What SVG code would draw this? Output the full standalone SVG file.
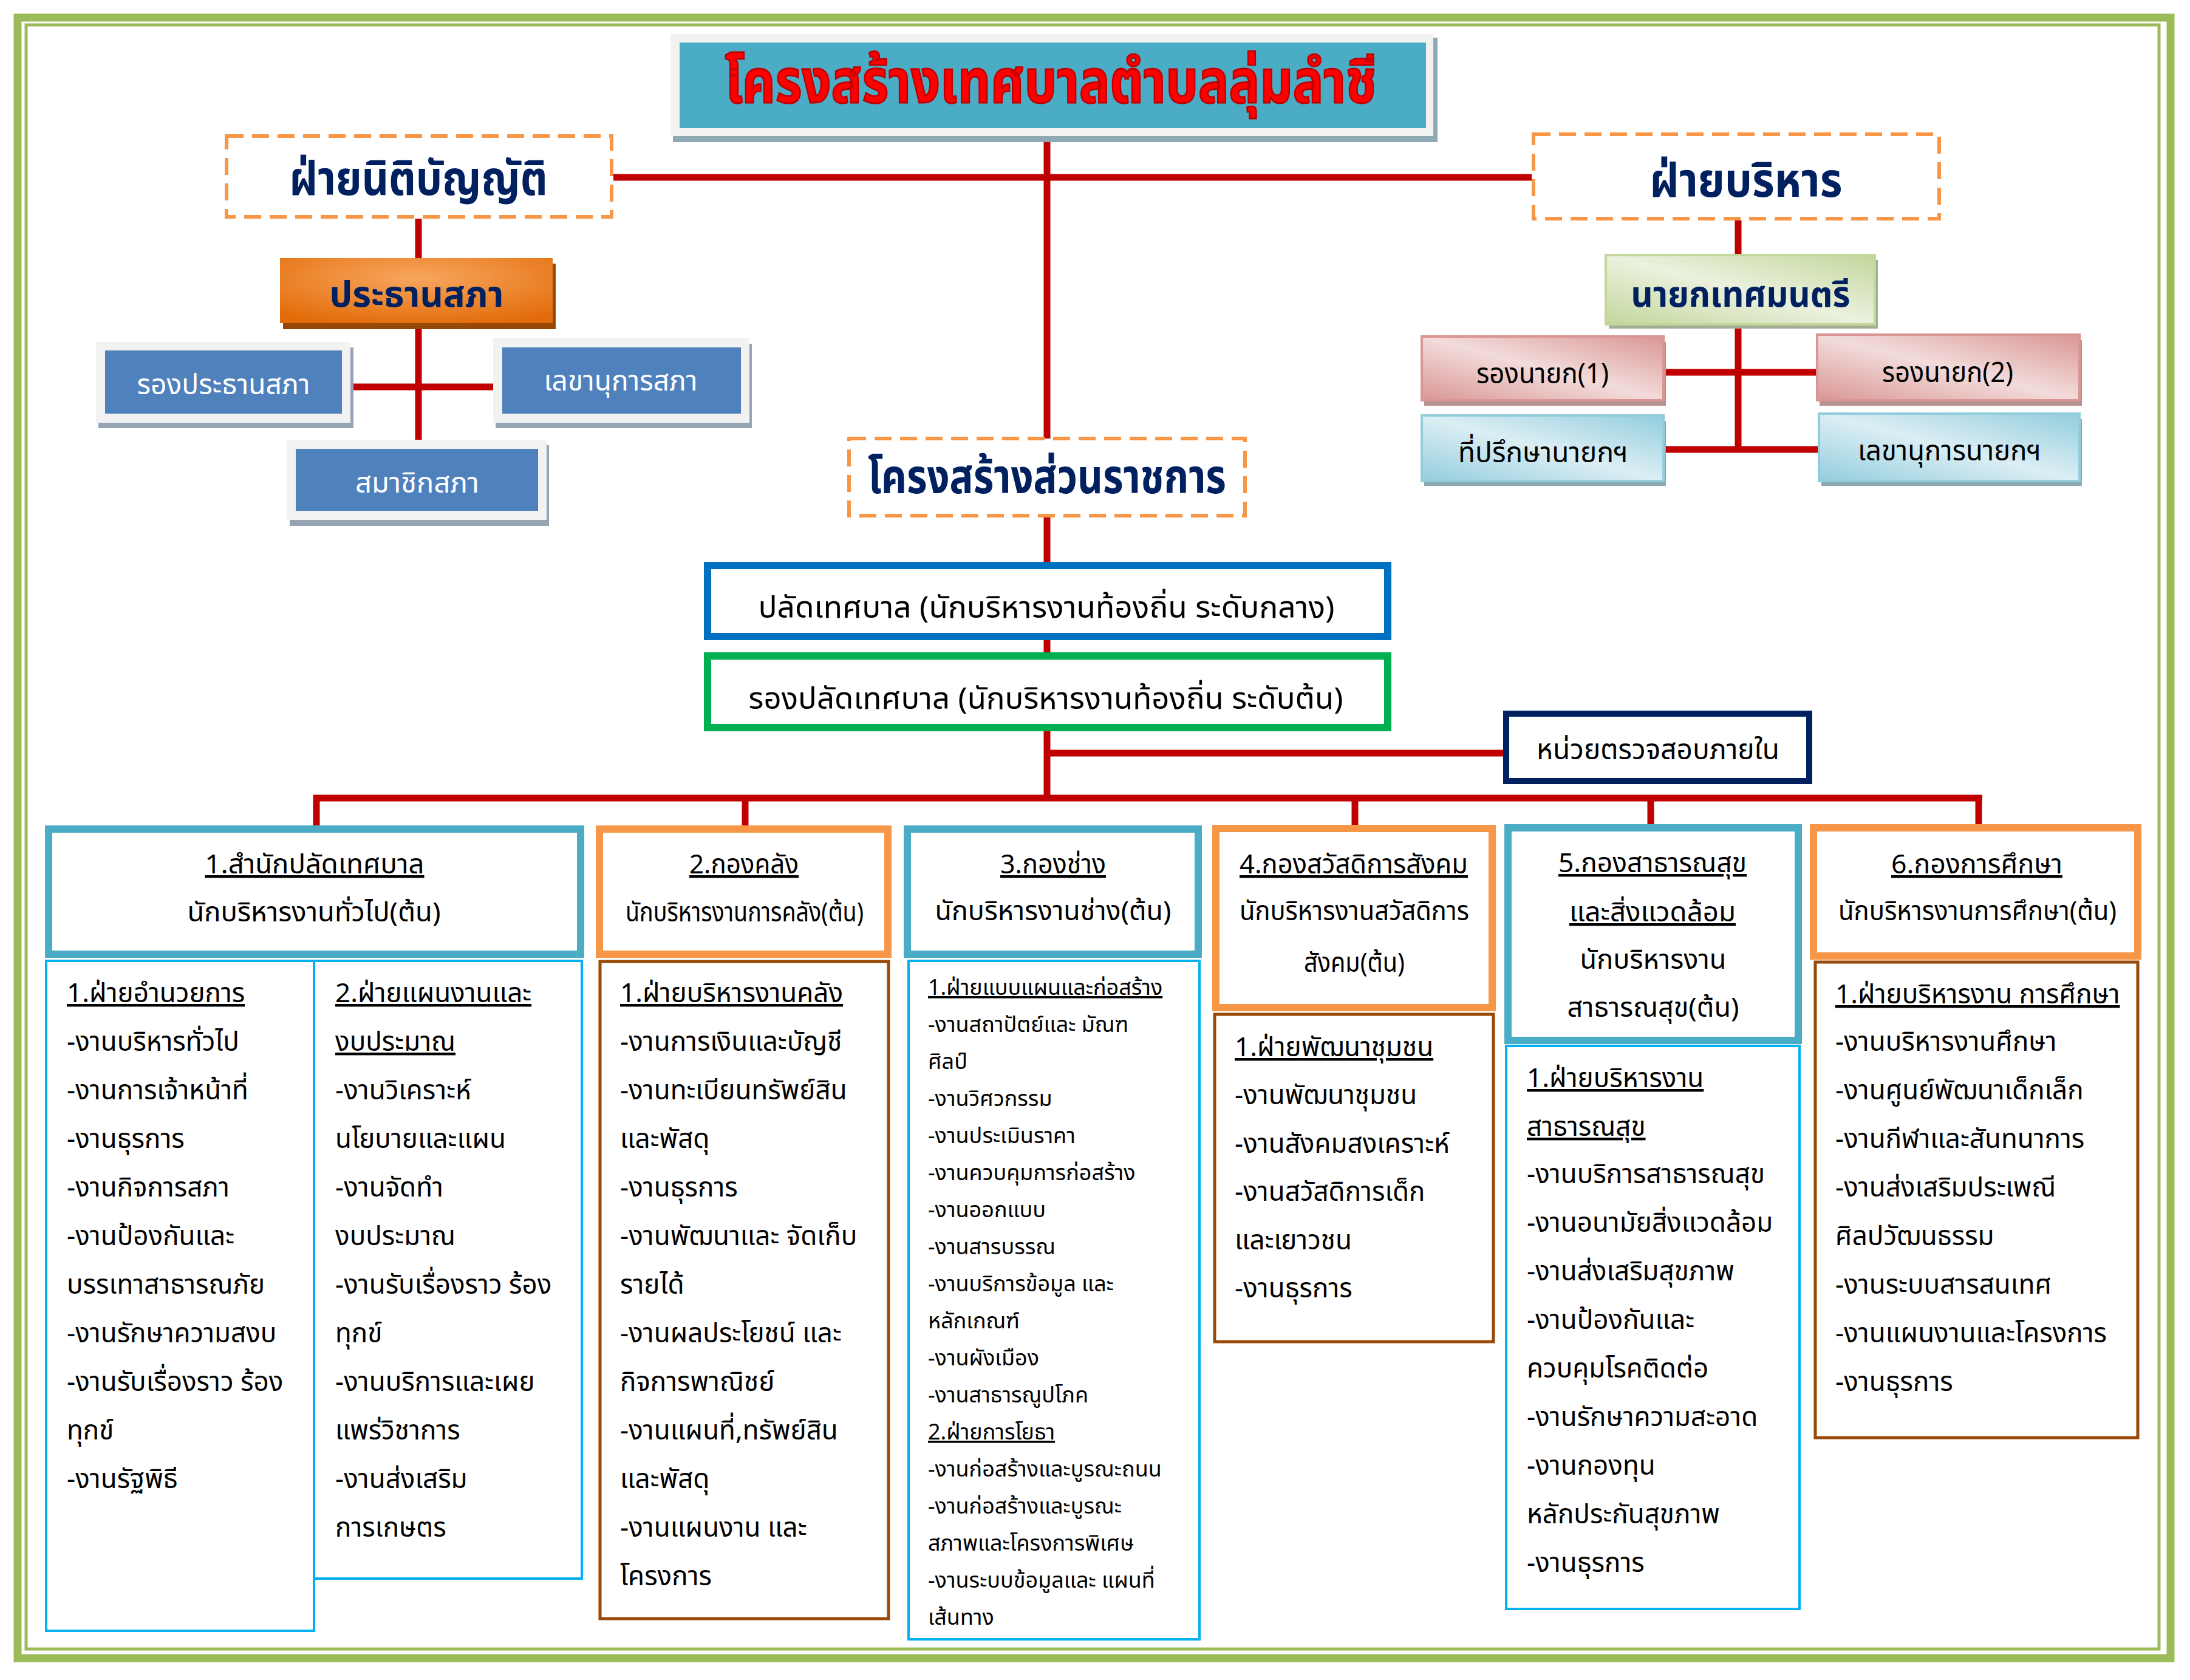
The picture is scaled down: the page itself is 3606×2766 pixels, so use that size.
<svg xmlns="http://www.w3.org/2000/svg" width="3606" height="2766" viewBox="0 0 3606 2766">
<defs>
<style>
text{font-family:'Noto Sans Thai','Noto Sans','DejaVu Sans',sans-serif;}
.ln{stroke:#C00000;stroke-width:11;fill:none;}
.dash{fill:#fff;stroke:#F79646;stroke-width:6;stroke-dasharray:28 14;}
.big{font-weight:bold;fill:#002060;}
.lbl{font-size:46px;}
.li{font-size:44px;fill:#000;}
.sm{font-size:36px;fill:#000;}
.u{text-decoration:underline;}
.hd{fill:#fff;stroke-width:12;}
.teal{stroke:#4BACC6;}
.org{stroke:#F79646;}
.sb{fill:#fff;stroke:#00B0F0;stroke-width:4;}
.br{fill:#fff;stroke:#984807;stroke-width:5;}
</style>
<radialGradient id="gOrange" cx="0.5" cy="0.3" r="0.75">
<stop offset="0" stop-color="#F7A65E"/><stop offset="1" stop-color="#E36C0A"/>
</radialGradient>
<linearGradient id="gGreen" x1="0" y1="1" x2="1" y2="0">
<stop offset="0" stop-color="#C3D69B"/><stop offset="0.5" stop-color="#EBF1DE"/><stop offset="1" stop-color="#C3D69B"/>
</linearGradient>
<linearGradient id="gPink" x1="0" y1="1" x2="1" y2="0">
<stop offset="0" stop-color="#D99694"/><stop offset="0.5" stop-color="#F2DCDB"/><stop offset="1" stop-color="#D99694"/>
</linearGradient>
<linearGradient id="gBlue" x1="0" y1="1" x2="1" y2="0">
<stop offset="0" stop-color="#93CDDD"/><stop offset="0.5" stop-color="#DBEEF4"/><stop offset="1" stop-color="#93CDDD"/>
</linearGradient>
</defs>
<rect width="3606" height="2766" fill="#fff"/>
<g id="frame" fill="none" stroke="#9BBB59">
<rect x="29" y="29" width="3545" height="2701" stroke-width="13"/>
<rect x="43" y="41" width="3512" height="2674" stroke-width="5"/>
</g>

<g id="connectors">
<line class="ln" x1="1010" y1="292" x2="2522" y2="292"/>
<line class="ln" x1="1724" y1="224" x2="1724" y2="1314"/>
<line class="ln" x1="689" y1="360" x2="689" y2="724"/>
<line class="ln" x1="577" y1="637" x2="812" y2="637"/>
<line class="ln" x1="2862" y1="363" x2="2862" y2="740"/>
<line class="ln" x1="2739" y1="613" x2="2992" y2="613"/>
<line class="ln" x1="2739" y1="740" x2="2995" y2="740"/>
<line class="ln" x1="1724" y1="1240" x2="2475" y2="1240"/>
<line class="ln" x1="516" y1="1314" x2="3264" y2="1314"/>
<line class="ln" x1="521" y1="1310" x2="521" y2="1360"/>
<line class="ln" x1="1227" y1="1310" x2="1227" y2="1360"/>
<line class="ln" x1="2231" y1="1310" x2="2231" y2="1360"/>
<line class="ln" x1="2718" y1="1310" x2="2718" y2="1360"/>
<line class="ln" x1="3258" y1="1310" x2="3258" y2="1360"/>
</g>

<g id="title">
<rect x="1108" y="62" width="1259" height="172" fill="#8FA9B4"/>
<rect x="1104" y="56" width="1256" height="168" fill="#F2F2F2"/>
<rect x="1119" y="70" width="1229" height="141" fill="#4BACC6"/>
<text x="1730" y="169" text-anchor="middle" font-size="100" font-weight="bold" fill="#FF0000" stroke="#C00000" stroke-width="3" textLength="1073" lengthAdjust="spacingAndGlyphs">โครงสร้างเทศบาลตำบลลุ่มลำชี</text>
</g>

<g id="legislative">
<rect class="dash" x="373" y="224" width="634" height="133"/>
<text class="big" x="689" y="321" text-anchor="middle" font-size="78" textLength="425" lengthAdjust="spacingAndGlyphs">ฝ่ายนิติบัญญัติ</text>
</g>

<g id="executive">
<rect class="dash" x="2525" y="221" width="668" height="139"/>
<text class="big" x="2875" y="324" text-anchor="middle" font-size="78" textLength="317" lengthAdjust="spacingAndGlyphs">ฝ่ายบริหาร</text>
</g>

<g id="council-chair">
<rect x="466" y="434" width="449" height="108" fill="#974806"/>
<rect x="461" y="425" width="449" height="107" fill="url(#gOrange)"/>
<text x="686" y="505" text-anchor="middle" font-size="58" font-weight="bold" fill="#002060" textLength="287" lengthAdjust="spacingAndGlyphs">ประธานสภา</text>
</g>

<g id="council-vice">
<rect x="162" y="572" width="420" height="133" fill="#95A3B3"/>
<rect x="158" y="563" width="419" height="133" fill="#F2F2F2"/>
<rect x="173" y="577" width="390" height="104" fill="#4F81BD"/>
<text class="lbl" x="368" y="649" text-anchor="middle" fill="#fff" textLength="285" lengthAdjust="spacingAndGlyphs">รองประธานสภา</text>
</g>

<g id="council-secretary">
<rect x="816" y="566" width="422" height="139" fill="#95A3B3"/>
<rect x="812" y="557" width="422" height="139" fill="#F2F2F2"/>
<rect x="827" y="572" width="393" height="109" fill="#4F81BD"/>
<text class="lbl" x="1022" y="643" text-anchor="middle" fill="#fff" textLength="253" lengthAdjust="spacingAndGlyphs">เลขานุการสภา</text>
</g>

<g id="council-member">
<rect x="477" y="733" width="427" height="133" fill="#95A3B3"/>
<rect x="473" y="724" width="427" height="132" fill="#F2F2F2"/>
<rect x="487" y="739" width="399" height="102" fill="#4F81BD"/>
<text class="lbl" x="687" y="811" text-anchor="middle" fill="#fff" textLength="204" lengthAdjust="spacingAndGlyphs">สมาชิกสภา</text>
</g>

<g id="mayor">
<rect x="2649" y="428" width="443" height="113" fill="#A3AC95"/>
<rect x="2644" y="420" width="443" height="114" fill="url(#gGreen)" stroke="#C3D69B" stroke-width="4"/>
<text x="2866" y="505" text-anchor="middle" font-size="58" font-weight="bold" fill="#002060" textLength="361" lengthAdjust="spacingAndGlyphs">นายกเทศมนตรี</text>
</g>

<g id="deputy-mayor-1">
<rect x="2345" y="563" width="398" height="105" fill="#B59290"/>
<rect x="2341" y="554" width="398" height="105" fill="url(#gPink)" stroke="#D99694" stroke-width="4"/>
<text class="lbl" x="2540" y="631" text-anchor="middle" fill="#000" textLength="218" lengthAdjust="spacingAndGlyphs">รองนายก(1)</text>
</g>

<g id="deputy-mayor-2">
<rect x="2996" y="560" width="432" height="108" fill="#B59290"/>
<rect x="2992" y="551" width="432" height="108" fill="url(#gPink)" stroke="#D99694" stroke-width="4"/>
<text class="lbl" x="3207" y="629" text-anchor="middle" fill="#000" textLength="216" lengthAdjust="spacingAndGlyphs">รองนายก(2)</text>
</g>

<g id="mayor-advisor">
<rect x="2345" y="693" width="398" height="107" fill="#8FA9B4"/>
<rect x="2341" y="684" width="398" height="108" fill="url(#gBlue)" stroke="#93CDDD" stroke-width="4"/>
<text class="lbl" x="2541" y="761" text-anchor="middle" fill="#000" textLength="280" lengthAdjust="spacingAndGlyphs">ที่ปรึกษานายกฯ</text>
</g>

<g id="mayor-secretary">
<rect x="2999" y="690" width="429" height="110" fill="#8FA9B4"/>
<rect x="2995" y="681" width="429" height="111" fill="url(#gBlue)" stroke="#93CDDD" stroke-width="4"/>
<text class="lbl" x="3210" y="758" text-anchor="middle" fill="#000" textLength="302" lengthAdjust="spacingAndGlyphs">เลขานุการนายกฯ</text>
</g>

<g id="government-structure">
<rect class="dash" x="1398" y="722" width="652" height="127"/>
<text class="big" x="1724" y="812" text-anchor="middle" font-size="78" textLength="590" lengthAdjust="spacingAndGlyphs">โครงสร้างส่วนราชการ</text>
</g>

<g id="clerk">
<rect x="1165" y="931" width="1120" height="117" fill="#fff" stroke="#0070C0" stroke-width="12"/>
<text x="1723" y="1017" text-anchor="middle" font-size="50" fill="#000" textLength="949" lengthAdjust="spacingAndGlyphs">ปลัดเทศบาล (นักบริหารงานท้องถิ่น ระดับกลาง)</text>
</g>

<g id="deputy-clerk">
<rect x="1165" y="1080" width="1120" height="118" fill="#fff" stroke="#00B050" stroke-width="12"/>
<text x="1722" y="1167" text-anchor="middle" font-size="50" fill="#000" textLength="979" lengthAdjust="spacingAndGlyphs">รองปลัดเทศบาล (นักบริหารงานท้องถิ่น ระดับต้น)</text>
</g>

<g id="internal-audit">
<rect x="2480" y="1175" width="499" height="111" fill="#fff" stroke="#002060" stroke-width="10"/>
<text class="lbl" x="2730" y="1250" text-anchor="middle" fill="#000" textLength="400" lengthAdjust="spacingAndGlyphs">หน่วยตรวจสอบภายใน</text>
</g>

<g id="dept1">
<rect class="hd teal" x="80" y="1365" width="876" height="206"/>
<text class="li u" x="518" y="1438" text-anchor="middle" textLength="361" lengthAdjust="spacingAndGlyphs">1.สำนักปลัดเทศบาล</text>
<text class="li" x="517" y="1517" text-anchor="middle" textLength="417" lengthAdjust="spacingAndGlyphs">นักบริหารงานทั่วไป(ต้น)</text>
<rect class="sb" x="76" y="1582" width="441" height="1103"/>
<rect class="sb" x="517" y="1582" width="441" height="1017"/>
<g class="li">
<text x="110" y="1650" class="u">1.ฝ่ายอำนวยการ</text>
<text x="110" y="1730">-งานบริหารทั่วไป</text>
<text x="110" y="1810">-งานการเจ้าหน้าที่</text>
<text x="110" y="1890">-งานธุรการ</text>
<text x="110" y="1970">-งานกิจการสภา</text>
<text x="110" y="2050">-งานป้องกันและ</text>
<text x="110" y="2130">บรรเทาสาธารณภัย</text>
<text x="110" y="2210">-งานรักษาความสงบ</text>
<text x="110" y="2290">-งานรับเรื่องราว ร้อง</text>
<text x="110" y="2370">ทุกข์</text>
<text x="110" y="2450">-งานรัฐพิธี</text>
<text x="552" y="1650" class="u">2.ฝ่ายแผนงานและ</text>
<text x="552" y="1730" class="u">งบประมาณ</text>
<text x="552" y="1810">-งานวิเคราะห์</text>
<text x="552" y="1890">นโยบายและแผน</text>
<text x="552" y="1970">-งานจัดทำ</text>
<text x="552" y="2050">งบประมาณ</text>
<text x="552" y="2130">-งานรับเรื่องราว ร้อง</text>
<text x="552" y="2210">ทุกข์</text>
<text x="552" y="2290">-งานบริการและเผย</text>
<text x="552" y="2370">แพร่วิชาการ</text>
<text x="552" y="2450">-งานส่งเสริม</text>
<text x="552" y="2530">การเกษตร</text>
</g>
</g>

<g id="dept2">
<rect class="hd org" x="987" y="1365" width="475" height="206"/>
<text class="li u" x="1225" y="1438" text-anchor="middle" textLength="180" lengthAdjust="spacingAndGlyphs">2.กองคลัง</text>
<text class="li" x="1226" y="1517" text-anchor="middle" textLength="392" lengthAdjust="spacingAndGlyphs">นักบริหารงานการคลัง(ต้น)</text>
<rect class="br" x="988" y="1583" width="475" height="1082"/>
<g class="li">
<text x="1021" y="1650" class="u">1.ฝ่ายบริหารงานคลัง</text>
<text x="1021" y="1730">-งานการเงินและบัญชี</text>
<text x="1021" y="1810">-งานทะเบียนทรัพย์สิน</text>
<text x="1021" y="1890">และพัสดุ</text>
<text x="1021" y="1970">-งานธุรการ</text>
<text x="1021" y="2050">-งานพัฒนาและ จัดเก็บ</text>
<text x="1021" y="2130">รายได้</text>
<text x="1021" y="2210">-งานผลประโยชน์ และ</text>
<text x="1021" y="2290">กิจการพาณิชย์</text>
<text x="1021" y="2370">-งานแผนที่,ทรัพย์สิน</text>
<text x="1021" y="2450">และพัสดุ</text>
<text x="1021" y="2530">-งานแผนงาน และ</text>
<text x="1021" y="2610">โครงการ</text>
</g>
</g>

<g id="dept3">
<rect class="hd teal" x="1494" y="1365" width="479" height="206"/>
<text class="li u" x="1734" y="1438" text-anchor="middle" textLength="174" lengthAdjust="spacingAndGlyphs">3.กองช่าง</text>
<text class="li" x="1734" y="1515" text-anchor="middle" textLength="389" lengthAdjust="spacingAndGlyphs">นักบริหารงานช่าง(ต้น)</text>
<rect class="sb" x="1496" y="1582" width="479" height="1117"/>
<g class="sm">
<text x="1528" y="1638" class="u">1.ฝ่ายแบบแผนและก่อสร้าง</text>
<text x="1528" y="1699">-งานสถาปัตย์และ มัณฑ</text>
<text x="1528" y="1760">ศิลป์</text>
<text x="1528" y="1821">-งานวิศวกรรม</text>
<text x="1528" y="1882">-งานประเมินราคา</text>
<text x="1528" y="1943">-งานควบคุมการก่อสร้าง</text>
<text x="1528" y="2004">-งานออกแบบ</text>
<text x="1528" y="2065">-งานสารบรรณ</text>
<text x="1528" y="2126">-งานบริการข้อมูล และ</text>
<text x="1528" y="2187">หลักเกณฑ์</text>
<text x="1528" y="2248">-งานผังเมือง</text>
<text x="1528" y="2309">-งานสาธารณูปโภค</text>
<text x="1528" y="2370" class="u">2.ฝ่ายการโยธา</text>
<text x="1528" y="2431">-งานก่อสร้างและบูรณะถนน</text>
<text x="1528" y="2492">-งานก่อสร้างและบูรณะ</text>
<text x="1528" y="2553">สภาพและโครงการพิเศษ</text>
<text x="1528" y="2614">-งานระบบข้อมูลและ แผนที่</text>
<text x="1528" y="2675">เส้นทาง</text>
</g>
</g>

<g id="dept4">
<rect class="hd org" x="2002" y="1364" width="455" height="295"/>
<text class="li u" x="2229" y="1438" text-anchor="middle" textLength="376" lengthAdjust="spacingAndGlyphs">4.กองสวัสดิการสังคม</text>
<text class="li" x="2230" y="1515" text-anchor="middle" textLength="378" lengthAdjust="spacingAndGlyphs">นักบริหารงานสวัสดิการ</text>
<text class="li" x="2230" y="1600" text-anchor="middle" textLength="166" lengthAdjust="spacingAndGlyphs">สังคม(ต้น)</text>
<rect class="br" x="2000" y="1670" width="459" height="539"/>
<g class="li">
<text x="2033" y="1739" class="u">1.ฝ่ายพัฒนาชุมชน</text>
<text x="2033" y="1818">-งานพัฒนาชุมชน</text>
<text x="2033" y="1898">-งานสังคมสงเคราะห์</text>
<text x="2033" y="1977">-งานสวัสดิการเด็ก</text>
<text x="2033" y="2057">และเยาวชน</text>
<text x="2033" y="2136">-งานธุรการ</text>
</g>
</g>

<g id="dept5">
<rect class="hd teal" x="2483" y="1363" width="478" height="350"/>
<text class="li u" x="2721" y="1436" text-anchor="middle" textLength="310" lengthAdjust="spacingAndGlyphs">5.กองสาธารณสุข</text>
<text class="li u" x="2721" y="1517" text-anchor="middle" textLength="274" lengthAdjust="spacingAndGlyphs">และสิ่งแวดล้อม</text>
<text class="li" x="2722" y="1595" text-anchor="middle" textLength="241" lengthAdjust="spacingAndGlyphs">นักบริหารงาน</text>
<text class="li" x="2722" y="1674" text-anchor="middle" textLength="283" lengthAdjust="spacingAndGlyphs">สาธารณสุข(ต้น)</text>
<rect class="sb" x="2480" y="1722" width="483" height="927"/>
<g class="li">
<text x="2514" y="1790" class="u">1.ฝ่ายบริหารงาน</text>
<text x="2514" y="1870" class="u">สาธารณสุข</text>
<text x="2514" y="1948">-งานบริการสาธารณสุข</text>
<text x="2514" y="2028">-งานอนามัยสิ่งแวดล้อม</text>
<text x="2514" y="2108">-งานส่งเสริมสุขภาพ</text>
<text x="2514" y="2188">-งานป้องกันและ</text>
<text x="2514" y="2268">ควบคุมโรคติดต่อ</text>
<text x="2514" y="2348">-งานรักษาความสะอาด</text>
<text x="2514" y="2428">-งานกองทุน</text>
<text x="2514" y="2508">หลักประกันสุขภาพ</text>
<text x="2514" y="2588">-งานธุรการ</text>
</g>
</g>

<g id="dept6">
<rect class="hd org" x="2986" y="1363" width="534" height="211"/>
<text class="li u" x="3255" y="1438" text-anchor="middle" textLength="282" lengthAdjust="spacingAndGlyphs">6.กองการศึกษา</text>
<text class="li" x="3256" y="1515" text-anchor="middle" textLength="458" lengthAdjust="spacingAndGlyphs">นักบริหารงานการศึกษา(ต้น)</text>
<rect class="br" x="2989" y="1584" width="531" height="783"/>
<g class="li">
<text x="3022" y="1652" class="u">1.ฝ่ายบริหารงาน การศึกษา</text>
<text x="3022" y="1730">-งานบริหารงานศึกษา</text>
<text x="3022" y="1810">-งานศูนย์พัฒนาเด็กเล็ก</text>
<text x="3022" y="1890">-งานกีฬาและสันทนาการ</text>
<text x="3022" y="1970">-งานส่งเสริมประเพณี</text>
<text x="3022" y="2050">ศิลปวัฒนธรรม</text>
<text x="3022" y="2130">-งานระบบสารสนเทศ</text>
<text x="3022" y="2210">-งานแผนงานและโครงการ</text>
<text x="3022" y="2290">-งานธุรการ</text>
</g>
</g>
</svg>
